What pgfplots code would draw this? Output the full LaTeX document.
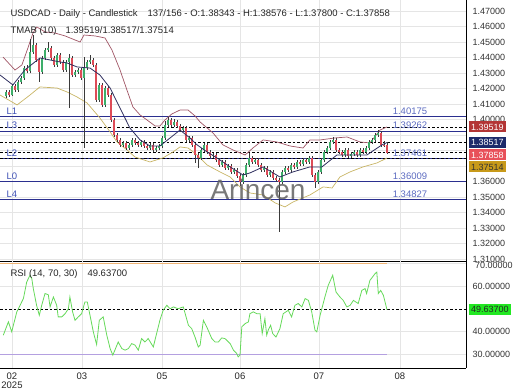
\documentclass[border=0pt]{standalone}
\usepackage{fontspec}
\setmainfont{Liberation Sans}
\usepackage{pgfplots}
\usepackage{pgfplotstable}
\pgfplotsset{compat=1.18}
\definecolor{upc}{HTML}{3DAE6A}
\definecolor{dnc}{HTML}{DD4B57}
\definecolor{wick}{HTML}{3A3A3A}
\definecolor{lvl}{HTML}{2B2F8F}
\definecolor{lvltxt}{HTML}{5C6BC0}
\definecolor{ltxt}{HTML}{3F51B5}
\definecolor{bandup}{HTML}{A05565}
\definecolor{bandmid}{HTML}{2F2F5F}
\definecolor{bandlo}{HTML}{C8B464}
\definecolor{rsig}{HTML}{66D95A}
\definecolor{rsio}{HTML}{F0B475}
\definecolor{rsip}{HTML}{B4A0E0}
\definecolor{boxa}{HTML}{B33535}
\definecolor{boxb}{HTML}{1C2A6A}
\definecolor{boxc}{HTML}{E8505A}
\definecolor{boxd}{HTML}{C89A1A}
\definecolor{boxg}{HTML}{22E822}

\pgfplotstableread{
x o h l c
2 1.4150 1.4190 1.4138 1.4178
3 1.4178 1.4192 1.4148 1.4160
4 1.4160 1.4228 1.4150 1.4215
5 1.4215 1.4230 1.4178 1.4190
6 1.4190 1.4257 1.4180 1.4245
7 1.4245 1.4282 1.4232 1.4268
8 1.4268 1.4345 1.4256 1.4332
9 1.4332 1.4352 1.4298 1.4310
10 1.4310 1.4520 1.4298 1.4436
11 1.4436 1.4545 1.4424 1.4481
12 1.4481 1.4495 1.4372 1.4384
13 1.4384 1.4396 1.4242 1.4307
14 1.4307 1.4410 1.4295 1.4397
15 1.4397 1.4462 1.4385 1.4449
16 1.4449 1.4500 1.4437 1.4461
17 1.4461 1.4473 1.4385 1.4397
18 1.4397 1.4409 1.4340 1.4352
19 1.4352 1.4428 1.4340 1.4416
20 1.4416 1.4428 1.4359 1.4371
21 1.4371 1.4383 1.4308 1.4320
22 1.4320 1.4383 1.4308 1.4371
23 1.4371 1.4420 1.4074 1.4397
24 1.4397 1.4409 1.4275 1.4287
25 1.4287 1.4319 1.4275 1.4307
26 1.4307 1.4332 1.4295 1.4320
27 1.4320 1.4332 1.4256 1.4268
28 1.4268 1.4400 1.3816 1.4332
29 1.4332 1.4383 1.4320 1.4371
30 1.4371 1.4416 1.4359 1.4384
31 1.4384 1.4396 1.4340 1.4352
32 1.4352 1.4364 1.4114 1.4126
33 1.4126 1.4235 1.4114 1.4223
34 1.4223 1.4235 1.4082 1.4094
35 1.4094 1.4215 1.4082 1.4203
36 1.4203 1.4215 1.4146 1.4158
37 1.4158 1.4170 1.3985 1.3997
38 1.3997 1.4009 1.3888 1.3900
39 1.3900 1.3912 1.3856 1.3868
40 1.3868 1.3880 1.3824 1.3836
41 1.3836 1.3861 1.3824 1.3849
42 1.3849 1.3861 1.3804 1.3816
43 1.3816 1.3848 1.3804 1.3836
44 1.3836 1.3880 1.3824 1.3868
45 1.3868 1.3880 1.3837 1.3849
46 1.3849 1.3861 1.3824 1.3836
47 1.3836 1.3867 1.3824 1.3855
48 1.3855 1.3867 1.3817 1.3829
49 1.3829 1.3841 1.3804 1.3816
50 1.3816 1.3848 1.3804 1.3836
51 1.3836 1.3848 1.3792 1.3804
52 1.3804 1.3828 1.3792 1.3816
53 1.3816 1.3841 1.3804 1.3829
54 1.3829 1.3893 1.3817 1.3881
55 1.3881 1.3990 1.3869 1.3965
56 1.3965 1.4016 1.3953 1.3997
57 1.3997 1.4012 1.3953 1.3965
58 1.3965 1.4005 1.3953 1.3984
59 1.3984 1.3996 1.3946 1.3958
60 1.3958 1.3970 1.3920 1.3932
61 1.3932 1.3957 1.3920 1.3945
62 1.3945 1.3957 1.3856 1.3868
63 1.3868 1.3893 1.3856 1.3881
64 1.3881 1.3893 1.3824 1.3836
65 1.3836 1.3848 1.3720 1.3771
66 1.3771 1.3783 1.3687 1.3752
67 1.3752 1.3816 1.3740 1.3804
68 1.3804 1.3848 1.3792 1.3836
69 1.3836 1.3848 1.3779 1.3791
70 1.3791 1.3803 1.3753 1.3765
71 1.3765 1.3783 1.3753 1.3771
72 1.3771 1.3783 1.3727 1.3739
73 1.3739 1.3751 1.3695 1.3707
74 1.3707 1.3738 1.3695 1.3726
75 1.3726 1.3738 1.3675 1.3687
76 1.3687 1.3712 1.3675 1.3700
77 1.3700 1.3712 1.3650 1.3662
78 1.3662 1.3687 1.3650 1.3675
79 1.3675 1.3687 1.3624 1.3636
80 1.3636 1.3648 1.3570 1.3597
81 1.3597 1.3654 1.3585 1.3642
82 1.3642 1.3719 1.3630 1.3707
83 1.3707 1.3784 1.3695 1.3752
84 1.3752 1.3764 1.3714 1.3726
85 1.3726 1.3751 1.3714 1.3739
86 1.3739 1.3751 1.3695 1.3707
87 1.3707 1.3719 1.3663 1.3675
88 1.3675 1.3699 1.3663 1.3687
89 1.3687 1.3699 1.3630 1.3642
90 1.3642 1.3674 1.3630 1.3662
91 1.3662 1.3674 1.3611 1.3623
92 1.3623 1.3635 1.3598 1.3610
93 1.3610 1.3622 1.3275 1.3597
94 1.3597 1.3674 1.3585 1.3662
95 1.3662 1.3699 1.3650 1.3687
96 1.3687 1.3699 1.3663 1.3675
97 1.3675 1.3719 1.3663 1.3707
98 1.3707 1.3719 1.3682 1.3694
99 1.3694 1.3738 1.3682 1.3726
100 1.3726 1.3738 1.3701 1.3713
101 1.3713 1.3751 1.3701 1.3739
102 1.3739 1.3751 1.3714 1.3726
103 1.3726 1.3764 1.3714 1.3752
104 1.3752 1.3764 1.3630 1.3642
105 1.3642 1.3654 1.3558 1.3597
106 1.3597 1.3674 1.3585 1.3662
107 1.3662 1.3751 1.3650 1.3739
108 1.3739 1.3803 1.3727 1.3791
109 1.3791 1.3828 1.3779 1.3816
110 1.3816 1.3867 1.3804 1.3855
111 1.3855 1.3890 1.3843 1.3868
112 1.3868 1.3880 1.3792 1.3804
113 1.3804 1.3816 1.3779 1.3791
114 1.3791 1.3803 1.3759 1.3771
115 1.3771 1.3816 1.3759 1.3804
116 1.3804 1.3816 1.3753 1.3765
117 1.3765 1.3790 1.3753 1.3778
118 1.3778 1.3803 1.3766 1.3791
119 1.3791 1.3803 1.3759 1.3771
120 1.3771 1.3816 1.3759 1.3804
121 1.3804 1.3816 1.3779 1.3791
122 1.3791 1.3828 1.3779 1.3816
123 1.3816 1.3867 1.3804 1.3855
124 1.3855 1.3880 1.3843 1.3868
125 1.3868 1.3912 1.3856 1.3900
126 1.3900 1.3930 1.3888 1.3913
127 1.3913 1.3925 1.3824 1.3836
128 1.3836 1.3858 1.3822 1.3834
129 1.38343 1.38576 1.37800 1.37858
}\candles

\pgfplotstableread{
x y
1 1.4403
5 1.4319
7.3 1.4352
9.3 1.4461
11 1.4558
12.3 1.4597
15 1.4565
18.3 1.4558
21.7 1.4539
25 1.4513
26.7 1.4500
28 1.4545
31.7 1.4539
35 1.4526
37.3 1.4449
40 1.4320
42.3 1.4191
44.3 1.4081
46.7 1.4029
49 1.3997
51.7 1.3958
53.3 1.3958
55 1.3997
57.3 1.4036
60 1.4061
62.7 1.4061
65 1.4023
66.7 1.3984
71 1.3913
74.3 1.3836
77.7 1.3803
81.7 1.3771
84.3 1.3816
87.7 1.3868
92.3 1.3855
96.7 1.3829
101 1.3816
103.3 1.3868
106.7 1.3868
111.7 1.3881
115.7 1.3887
120 1.3855
123.3 1.3849
126.7 1.3932
129 1.39519
}\bandU

\pgfplotstableread{
x y
0 1.4287
4.3 1.4223
8.3 1.4320
13.3 1.4397
16.7 1.4384
20 1.4371
22.3 1.4365
25.7 1.4339
30 1.4332
33.3 1.4287
36.7 1.4203
40 1.4074
43.3 1.3945
46.7 1.3868
50 1.3829
53.3 1.3829
56.7 1.3881
60 1.3932
63.3 1.3881
65.7 1.3836
69 1.3791
72.3 1.3752
76.7 1.3694
81 1.3642
83.3 1.3655
87.7 1.3694
93.3 1.3629
97.7 1.3662
103.3 1.3694
107.3 1.3694
112.3 1.3771
116.7 1.3771
122.3 1.3771
127.3 1.3836
129 1.38517
}\bandM

\pgfplotstableread{
x y
0 1.4158
5.7 1.4094
10 1.4158
13.3 1.4210
19 1.4203
22.3 1.4178
25.7 1.4145
29 1.4107
33.3 1.4010
36.7 1.3920
39 1.3855
42.3 1.3804
45 1.3758
50 1.3726
54.3 1.3752
57.7 1.3791
60 1.3823
62.7 1.3816
65.7 1.3771
69 1.3707
73.3 1.3662
76.7 1.3629
80 1.3565
83.3 1.3526
87.7 1.3513
91.7 1.3462
95 1.3436
97.7 1.3468
103.3 1.3513
107.7 1.3565
110.7 1.3558
113.3 1.3629
116.7 1.3662
121 1.3694
125.7 1.3720
129 1.37514
}\bandL

\pgfplotstableread{
x y
1.1 38.4
2.8 44.3
3.9 39.9
5.6 48.7
7.8 54.6
8.9 61.9
10 64.9
10.6 63.4
11.1 59.0
12.2 51.6
13.1 47.2
13.9 51.6
15 56.8
16.1 56.3
16.7 50.9
17.8 55.3
18.9 51.6
19.4 46.5
20.6 46.5
21.7 47.9
22.8 50.1
23.3 55.3
24.2 48.7
25 45.0
26.1 46.5
27.2 47.9
28.3 53.1
29.1 53.1
30 47.2
31.1 39.9
32.2 34.3
33.1 45.0
34.4 46.5
35.6 38.4
36.7 32.5
37.6 29.6
38.3 31.8
39.4 35.4
40.6 32.5
41.7 31.8
42.8 32.5
43.9 34.7
45 34.0
46.1 31.8
47.2 36.9
48.3 35.4
49.4 36.9
51.1 33.2
52.2 39.1
53.3 45.0
54.4 49.4
55.6 51.6
56.7 50.1
57.8 50.9
59.4 50.1
61.1 50.9
62.8 42.8
63.9 41.3
65 37.6
66.1 33.2
66.7 34.0
67.8 45.0
68.9 42.1
70.6 36.9
71.7 35.4
72.8 35.4
73.9 37.2
75 36.9
76.7 34.7
77.8 31.8
78.9 30.3
79.4 28.8
80 29.6
80.6 42.1
81.7 43.5
82.8 44.3
83.3 47.9
84.4 48.7
85.6 47.9
86.7 47.9
87.4 39.1
88.3 45.7
88.9 38.4
89.4 40.6
90.2 42.8
90.9 39.1
92 37.6
93.3 41.3
94.4 47.9
96.1 49.4
97.2 46.5
98.3 51.6
99.4 52.4
100.6 50.9
101.7 54.6
102.8 53.8
103.9 48.7
105 40.6
105.6 39.9
106.7 47.2
108.3 55.3
109.4 60.4
110.9 64.9
112 57.5
113.3 55.3
114.4 53.8
115.6 50.9
116.7 51.6
117.8 53.8
119.4 52.4
120.6 58.2
121.7 59.0
122.2 56.8
123.3 62.6
125 65.6
125.6 66.3
126.1 56.8
126.9 58.2
127.8 56.0
129 49.637
}\rsidata

\pgfplotsset{
  chartbase/.style={
    scale only axis, width=466pt,
    xmin=0, xmax=155.33,
    axis x line*=bottom, axis y line*=right,
    axis line style={-, black, line width=0.7pt},
    xtick={4,27.33,54,80,106.33,133.33},
    major tick length=0pt,
    grid=major, major grid style={draw=black!10, line width=0.5pt},
    clip mode=individual,
    yticklabel style={font=\fontsize{9}{10}\selectfont, text=black!80, xshift=3pt},
    /pgf/number format/fixed, /pgf/number format/fixed zerofill,
    /pgf/number format/precision=5, /pgf/number format/assume math mode=true,
  },
  lvlline/.style={lvl, line width=0.8pt},
  dline/.style={black, line width=0.7pt, dash pattern=on 2.5pt off 2pt},
}
\tikzset{
  lvltext/.style={text=lvltxt, font=\fontsize{9.5}{10}\selectfont, anchor=south west, inner sep=2pt},
  ltext/.style={text=ltxt, font=\fontsize{9.5}{10}\selectfont, anchor=south west, inner sep=2pt},
  vbox/.style={anchor=west, font=\fontsize{9}{10}\selectfont, inner xsep=2pt, inner ysep=1.5pt, minimum height=11pt, xshift=3pt},
}

\begin{document}
\begin{tikzpicture}
\useasboundingbox (0pt,0pt) rectangle (520pt,390pt);
\begin{axis}[chartbase,
  at={(0pt,129pt)}, anchor=south west, height=261pt,
  ymin=1.3087, ymax=1.4771,
  xticklabels={},
  ytick={1.31,1.32,1.33,1.34,1.35,1.36,1.37,1.38,1.39,1.40,1.41,1.42,1.43,1.44,1.45,1.46,1.47},
  yticklabels={1.31000,1.32000,1.33000,1.34000,1.35000,1.36000,,,,1.40000,1.41000,1.42000,1.43000,1.44000,1.45000,1.46000,1.47000},
]
% level lines
\addplot[lvlline] coordinates {(0,1.40175) (155.33,1.40175)};
\addplot[lvlline] coordinates {(0,1.39262) (155.33,1.39262)};
\addplot[lvlline] coordinates {(0,1.37461) (155.33,1.37461)};
\addplot[lvlline] coordinates {(0,1.36009) (155.33,1.36009)};
\addplot[lvlline] coordinates {(0,1.34827) (155.33,1.34827)};
\addplot[dline] coordinates {(0,1.39519) (155.33,1.39519)};
\addplot[dline] coordinates {(0,1.38517) (155.33,1.38517)};
\addplot[dline] coordinates {(0,1.37858) (155.33,1.37858)};
\addplot[dline] coordinates {(0,1.37514) (155.33,1.37514)};
% bands
\addplot[bandup, line width=0.7pt] table[x=x,y=y] {\bandU};
\addplot[bandlo, line width=0.7pt] table[x=x,y=y] {\bandL};
% wicks
\addplot[draw=none, mark=none,
  error bars/.cd, y dir=plus, y explicit, error mark=none,
  error bar style={draw=wick, line width=0.55pt}]
  table[x=x, y=l, y error expr=\thisrow{h}-\thisrow{l}] {\candles};
% up bodies
\addplot[draw=none, mark=none, restrict expr to domain={\thisrow{c}-\thisrow{o}}{0:1},
  error bars/.cd, y dir=plus, y explicit, error mark=none,
  error bar style={draw=upc, line width=1.9pt}]
  table[x=x, y=o, y error expr=\thisrow{c}-\thisrow{o}] {\candles};
% down bodies
\addplot[draw=none, mark=none, restrict expr to domain={\thisrow{o}-\thisrow{c}}{0.000001:1},
  error bars/.cd, y dir=plus, y explicit, error mark=none,
  error bar style={draw=dnc, line width=1.9pt}]
  table[x=x, y=c, y error expr=\thisrow{o}-\thisrow{c}] {\candles};
\addplot[bandmid, line width=0.8pt] table[x=x,y=y] {\bandM};
% labels
\node[ltext] at (axis cs:1.5,1.40175) {L1};
\node[ltext] at (axis cs:1.5,1.39262) {L3};
\node[ltext] at (axis cs:1.5,1.37461) {L2};
\node[ltext] at (axis cs:1.5,1.36009) {L0};
\node[ltext] at (axis cs:1.5,1.34827) {L4};
\node[lvltext] at (axis cs:130.2,1.40175) {1.40175};
\node[lvltext] at (axis cs:130.2,1.39262) {1.39262};
\node[lvltext] at (axis cs:130.2,1.37461) {1.37461};
\node[lvltext] at (axis cs:130.2,1.36009) {1.36009};
\node[lvltext] at (axis cs:130.2,1.34827) {1.34827};
\node[font=\fontsize{28}{30}\selectfont, text=black!62, opacity=0.85] at (axis cs:86,1.3546) {Arincen};
% value boxes
\node[vbox, fill=boxa, text=white] at (axis cs:155.33,1.39519) {1.39519};
\node[vbox, fill=boxb, text=white] at (axis cs:155.33,1.38517) {1.38517};
\node[vbox, fill=boxc, text=white] at (axis cs:155.33,1.3771) {1.37858};
\node[vbox, fill=boxd, text=black!80] at (axis cs:155.33,1.3694) {1.37514};
\end{axis}

\begin{axis}[chartbase,
  at={(0pt,22pt)}, anchor=south west, height=107pt,
  ymin=23.9, ymax=71.2,
  ytick={30,40,60,70},
  yticklabels={30.00000,40.00000,60.00000,},
  xticklabels={{02\\2025},03,05,06,07,08},
  xticklabel style={font=\fontsize{9.5}{9}\selectfont, text=black!85, align=center, yshift=-1pt},
]
\addplot[rsio, line width=0.9pt] coordinates {(0,70) (129,70)};
\addplot[rsip, line width=0.9pt] coordinates {(0,30) (129,30)};
\addplot[dline] coordinates {(0,49.637) (155.33,49.637)};
\addplot[rsig, line width=0.8pt] table[x=x,y=y] {\rsidata};
\node[vbox, fill=boxg, text=black!85] at (axis cs:155.33,49.637) {49.63700};
\node[anchor=north west, font=\fontsize{9}{10}\selectfont, text=black!80, inner sep=0pt] at ([xshift=9pt,yshift=-1.5pt]rel axis cs:1,1) {70.00000};
\end{axis}

\node[anchor=base west, font=\fontsize{9.5}{11}\selectfont, text=black!85] at (7pt,373pt) {USDCAD - Daily - Candlestick};
\node[anchor=base west, font=\fontsize{9.5}{11}\selectfont, text=black!85] at (144pt,373pt) {137/156 - O:1.38343 - H:1.38576 - L:1.37800 - C:1.37858};
\node[anchor=base west, font=\fontsize{9.5}{11}\selectfont, text=black!85] at (7pt,356pt) {TMAB (10)};
\node[anchor=base west, font=\fontsize{9.5}{11}\selectfont, text=black!85] at (62pt,356pt) {1.39519/1.38517/1.37514};
\node[anchor=base west, font=\fontsize{9.5}{11}\selectfont, text=black!85] at (7pt,113pt) {RSI (14, 70, 30)};
\node[anchor=base west, font=\fontsize{9.5}{11}\selectfont, text=black!85] at (84pt,113pt) {49.63700};
\end{tikzpicture}
\end{document}
